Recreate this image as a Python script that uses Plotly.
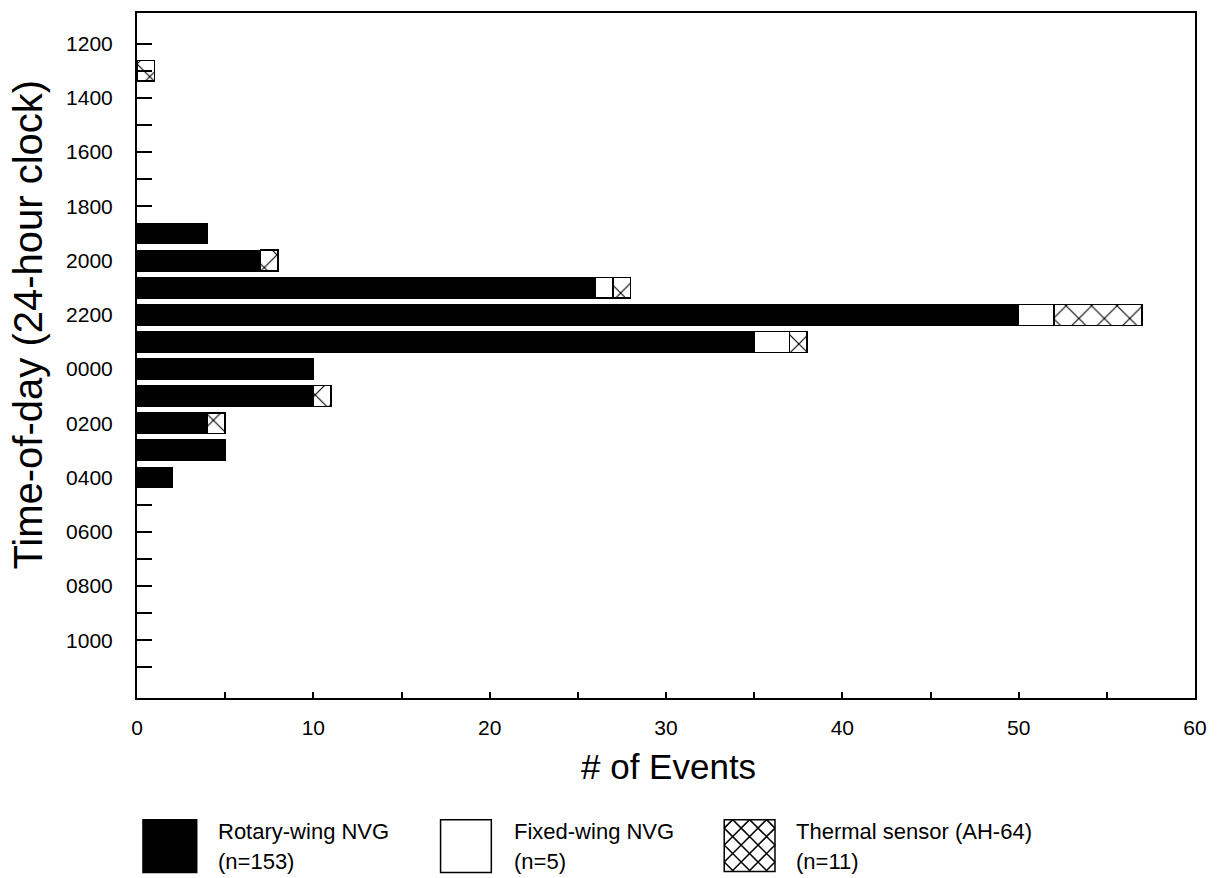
import plotly.graph_objects as go

# ---- data ----
hour_labels = ["1300", "1900", "2000", "2100", "2200", "2300", "0000", "0100", "0200", "0300", "0400"]
rotary_wing = [0, 4, 7, 26, 50, 35, 10, 10, 4, 5, 2]
fixed_wing = [0, 0, 0, 1, 2, 2, 0, 0, 0, 0, 0]
thermal = [1, 0, 1, 1, 5, 1, 0, 1, 1, 0, 0]

series_names = ["Rotary-wing NVG", "Fixed-wing NVG", "Thermal sensor (AH-64)"]
series_counts = ["(n=153)", "(n=5)", "(n=11)"]

ytick_labels = ["1200", "1400", "1600", "1800", "2000", "2200", "0000", "0200", "0400", "0600", "0800", "1000"]
xtick_vals = [0, 10, 20, 30, 40, 50, 60]

FONT = "Liberation Sans, Arial, Helvetica, sans-serif"


def hour_pos(label):
    # hours elapsed since 1200 on the 24-hour clock
    return (int(label[:2]) - 12) % 24


y_pos = [hour_pos(h) for h in hour_labels]
ytick_pos = [hour_pos(h) for h in ytick_labels]

fig = go.Figure()
fig.add_trace(go.Bar(
    y=y_pos, x=rotary_wing, orientation="h", name=series_names[0],
    width=0.77, marker=dict(color="black", line=dict(color="black", width=1)),
))
fig.add_trace(go.Bar(
    y=y_pos, x=fixed_wing, orientation="h", name=series_names[1],
    width=0.77, marker=dict(color="white", line=dict(color="black", width=1.5)),
))
fig.add_trace(go.Bar(
    y=y_pos, x=thermal, orientation="h", name=series_names[2],
    width=0.77,
    marker=dict(color="white", line=dict(color="black", width=1.5),
                pattern=dict(shape="x", size=18, solidity=0.12,
                             fgcolor="black", bgcolor="white", fillmode="replace")),
))

# ---- layout geometry (pixels) ----
W, H = 1218, 878
L, R, T, B = 137, 18, 11, 180
PW, PH = W - L - R, H - T - B


def px_x(px):
    return (px - L) / PW


def px_y(py):
    return (H - B - py) / PH


shapes = []
annotations = []

# legend swatches
boxes = [(143, 820, 197, 873), (442, 820, 493, 873), (727, 820, 778, 872)]
text_x = [216, 514, 797]
fills = ["black", "white", "white"]
for (x0, y0, x1, y1), fc in zip(boxes, fills):
    shapes.append(dict(type="rect", xref="paper", yref="paper",
                       x0=px_x(x0), x1=px_x(x1), y0=px_y(y1), y1=px_y(y0),
                       fillcolor=fc, line=dict(color="black", width=1.5)))

# crosshatch for thermal swatch
x0, y0, x1, y1 = boxes[2]
s = 17.0
path = ""
for i in range(-6, 7):
    k = y0 - x0 + i * s + s / 2
    a, b = max(x0, y0 - k), min(x1, y1 - k)
    if b - a > 1:
        path += f"M{px_x(a)},{px_y(a + k)} L{px_x(b)},{px_y(b + k)} "
    k2 = y0 + x0 + i * s + s / 2
    a, b = max(x0, k2 - y1), min(x1, k2 - y0)
    if b - a > 1:
        path += f"M{px_x(a)},{px_y(k2 - a)} L{px_x(b)},{px_y(k2 - b)} "
shapes.append(dict(type="path", xref="paper", yref="paper", path=path,
                   line=dict(color="black", width=1.5)))

for name, cnt, tx in zip(series_names, series_counts, text_x):
    annotations.append(dict(text=name, xref="paper", yref="paper",
                            x=px_x(tx), y=px_y(832), xanchor="left", yanchor="middle",
                            showarrow=False, font=dict(family=FONT, size=22, color="black")))
    annotations.append(dict(text=cnt, xref="paper", yref="paper",
                            x=px_x(tx), y=px_y(862), xanchor="left", yanchor="middle",
                            showarrow=False, font=dict(family=FONT, size=22, color="black")))

# axis titles
annotations.append(dict(text="# of Events", xref="paper", yref="paper",
                        x=px_x(671), y=px_y(767), xanchor="center", yanchor="middle",
                        showarrow=False, font=dict(family=FONT, size=35, color="black")))
annotations.append(dict(text="Time-of-day (24-hour clock)", xref="paper", yref="paper",
                        x=px_x(28), y=px_y(324), xanchor="center", yanchor="middle",
                        textangle=-90, showarrow=False,
                        font=dict(family=FONT, size=40, color="black")))

fig.update_layout(
    width=W, height=H,
    margin=dict(l=L, r=R, t=T, b=B, pad=0),
    barmode="stack",
    showlegend=False,
    plot_bgcolor="white", paper_bgcolor="white",
    font=dict(family=FONT, color="black"),
    shapes=shapes,
    annotations=annotations,
    xaxis=dict(
        range=[0, 60], tickmode="array", tickvals=xtick_vals,
        ticktext=[str(v) for v in xtick_vals],
        ticks="inside", ticklen=6, tickwidth=1.5, tickcolor="black",
        minor=dict(tickmode="array", tickvals=[5, 15, 25, 35, 45, 55],
                   ticks="inside", ticklen=6, tickwidth=1.5, tickcolor="black"),
        showline=True, linecolor="black", linewidth=2, mirror=True,
        showgrid=False, zeroline=False,
        tickfont=dict(family=FONT, size=21, color="black"),
        ticklabelstandoff=10,
    ),
    yaxis=dict(
        range=[24.13, -1.13], autorange=False,
        tickmode="array", tickvals=ytick_pos, ticktext=ytick_labels,
        ticks="inside", ticklen=15, tickwidth=1.5, tickcolor="black",
        minor=dict(tickmode="array", tickvals=[p + 1 for p in ytick_pos],
                   ticks="inside", ticklen=15, tickwidth=1.5, tickcolor="black"),
        showline=True, linecolor="black", linewidth=2, mirror=True,
        showgrid=False, zeroline=False,
        tickfont=dict(family=FONT, size=21, color="black"),
        ticklabelstandoff=18,
    ),
)

fig.write_html(
    "out.html",
    config={"displayModeBar": False},
    post_script="document.body.style.margin='0';document.body.style.overflow='hidden';",
)
